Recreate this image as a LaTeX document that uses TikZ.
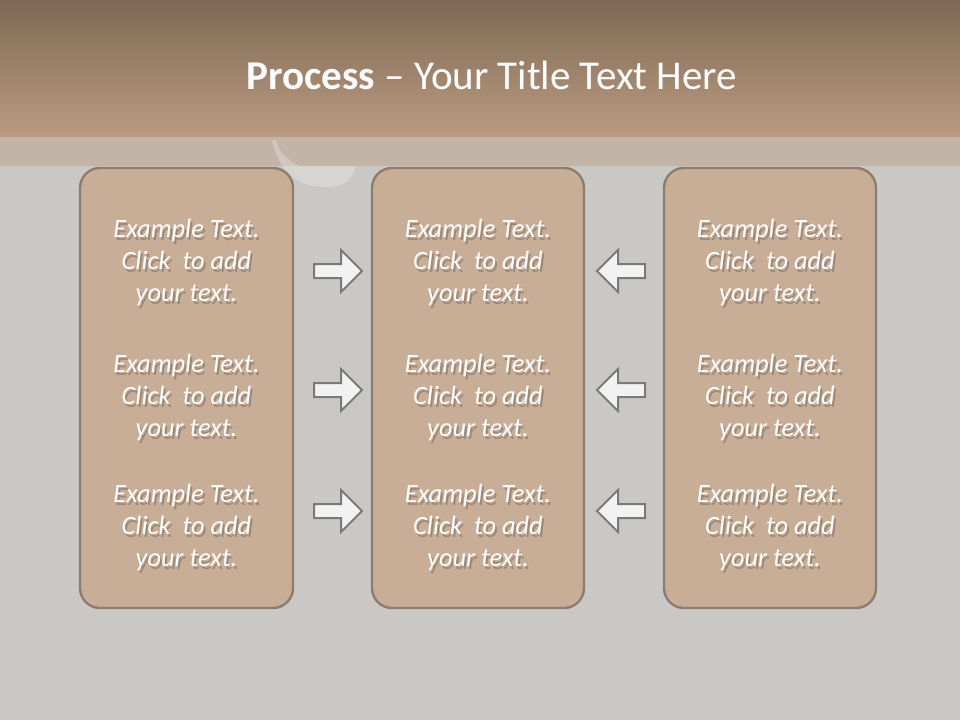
\documentclass[tikz,border=0pt]{standalone}
\usepackage{fontspec}
\setmainfont{Carlito}
\newcommand\myshline[1]{\leavevmode\rlap{\hspace{2pt}\raisebox{-2.5pt}{\color{shcol}#1}}#1}
\begin{document}
\begin{tikzpicture}[x=1pt,y=-1pt,
  boxst/.style={draw=boxline,fill=boxfill,line width=2.4pt,rounded corners=20pt},
  txtst/.style={text=white,font=\fontsize{26.4}{32}\selectfont\itshape,align=center,inner sep=0pt},
  arrst/.style={draw=arrline,fill=arrfill,line width=2pt,line join=miter},
  rarr/.pic={\path[arrst] (-24,-7) -- (3,-7) -- (3,-21) -- (24,0) -- (3,21) -- (3,7) -- (-24,7) -- cycle;},
  larr/.pic={\path[arrst] (24,-7) -- (-3,-7) -- (-3,-21) -- (-24,0) -- (-3,21) -- (-3,7) -- (24,7) -- cycle;}
]
\definecolor{bg}{HTML}{CAC8C4}
\definecolor{hdtop}{HTML}{7F6954}
\definecolor{hdbot}{HTML}{BA9B81}
\definecolor{band}{HTML}{C3B4A8}
\definecolor{boxfill}{HTML}{C9AE97}
\definecolor{boxline}{HTML}{8E7D6E}
\definecolor{arrfill}{HTML}{F2F2F2}
\definecolor{arrline}{HTML}{7A7A7A}
\definecolor{shcol}{HTML}{9E8A78}
\useasboundingbox (0,0) rectangle (960,720);
\fill[bg] (0,0) rectangle (960,720);
\shade[top color=hdtop,bottom color=hdbot] (0,0) rectangle (960,137);
\fill[band] (0,137) rectangle (960,166);
% faint light swirl
\fill[white,opacity=0.25] (272,140) .. controls (280,175) and (300,188) .. (330,187) .. controls (345,186) and (352,180) .. (356,166) -- (300,166) .. controls (285,160) and (278,150) .. (276,140) -- cycle;
\node[text=white,font=\fontsize{41}{44}\selectfont,inner sep=0pt] (title) at (492,75) {\textbf{Process} – Your Title Text Here};
% boxes
\draw[boxst] (80,168) rectangle (293,608);
\draw[boxst] (372,168) rectangle (584,608);
\draw[boxst] (664,168) rectangle (876,608);
\foreach \col/\cx in {1/186.5,2/478,3/770}{
  \foreach \row/\cy in {1/264,2/399,3/529}{
    \node[txtst] (t\col\row) at (\cx,\cy) {\myshline{Example Text.}\\\myshline{Click\ \ to add}\\\myshline{your text.}};
  }
}
% arrows
\pic at (338,271) {rarr};
\pic at (338,390) {rarr};
\pic at (338,511) {rarr};
\pic at (621,271) {larr};
\pic at (621,390) {larr};
\pic at (621,511) {larr};
\end{tikzpicture}
\end{document}
